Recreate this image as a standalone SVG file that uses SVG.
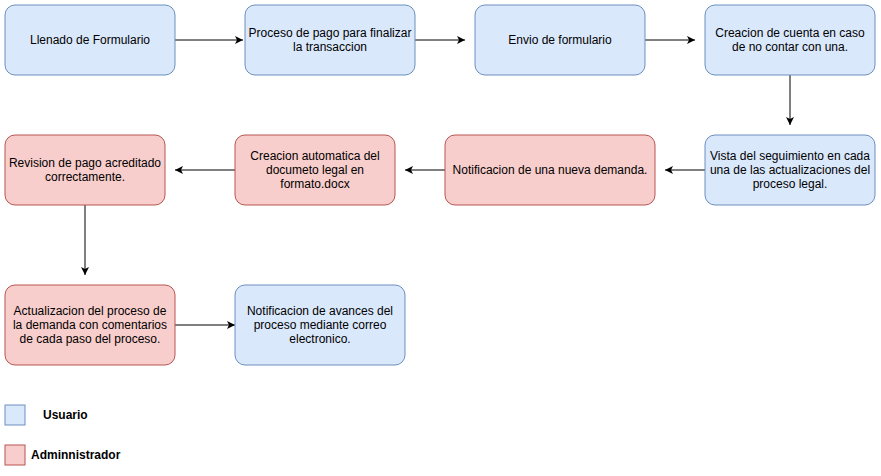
<svg xmlns="http://www.w3.org/2000/svg" width="881" height="476" viewBox="0 0 881 476">
<style>
.u{fill:#dae8fc;stroke:#6c8ebf;stroke-width:1}
.a{fill:#f8cecc;stroke:#b85450;stroke-width:1}
text{font-family:"Liberation Sans",Arial,sans-serif;font-size:12px;fill:#000;text-anchor:middle;dominant-baseline:central}
.b{font-weight:bold;text-anchor:start}
.c{fill:none;stroke:#000;stroke-width:1}
</style>
<defs>
<marker id="ar" viewBox="0 0 10 10" refX="10" refY="5" markerWidth="8" markerHeight="8" markerUnits="userSpaceOnUse" orient="auto">
<path d="M0,0 L10,5 L0,10 L2.5,5 Z" fill="#000"/>
</marker>
</defs>
<rect width="881" height="476" fill="#fff"/>
<g id="connectors">
<path class="c" d="M175,40 H243" marker-end="url(#ar)"/>
<path class="c" d="M415,40 H465" marker-end="url(#ar)"/>
<path class="c" d="M645,40 H695" marker-end="url(#ar)"/>
<path class="c" d="M790,75 V125" marker-end="url(#ar)"/>
<path class="c" d="M705,170 H665" marker-end="url(#ar)"/>
<path class="c" d="M445,170 H405" marker-end="url(#ar)"/>
<path class="c" d="M235,170 H175" marker-end="url(#ar)"/>
<path class="c" d="M85,205 V275" marker-end="url(#ar)"/>
<path class="c" d="M175,325 H235" marker-end="url(#ar)"/>
</g>
<g id="n1"><rect class="u" x="5" y="5" width="170" height="70" rx="10"/><text x="90" y="40">Llenado de Formulario</text></g>
<g id="n2"><rect class="u" x="245" y="5" width="170" height="70" rx="10"/><text x="330" y="33">Proceso de pago para finalizar</text><text x="330" y="47">la transaccion</text></g>
<g id="n3"><rect class="u" x="475" y="5" width="170" height="70" rx="10"/><text x="560" y="40">Envio de formulario</text></g>
<g id="n4"><rect class="u" x="705" y="5" width="170" height="70" rx="10"/><text x="790" y="33">Creacion de cuenta en caso</text><text x="790" y="47">de no contar con una.</text></g>
<g id="n5"><rect class="u" x="705" y="135" width="170" height="70" rx="10"/><text x="790" y="156">Vista del seguimiento en cada</text><text x="790" y="170">una de las actualizaciones del</text><text x="790" y="184">proceso legal.</text></g>
<g id="n6"><rect class="a" x="445" y="135" width="210" height="70" rx="10"/><text x="550" y="170">Notificacion de una nueva demanda.</text></g>
<g id="n7"><rect class="a" x="235" y="135" width="160" height="70" rx="10"/><text x="315" y="156">Creacion automatica del</text><text x="315" y="170">documeto legal en</text><text x="315" y="184">formato.docx</text></g>
<g id="n8"><rect class="a" x="5" y="135" width="160" height="70" rx="10"/><text x="85" y="163">Revision de pago acreditado</text><text x="85" y="177">correctamente.</text></g>
<g id="n9"><rect class="a" x="5" y="285" width="170" height="80" rx="10"/><text x="90" y="311">Actualizacion del proceso de</text><text x="90" y="325">la demanda con comentarios</text><text x="90" y="339">de cada paso del proceso.</text></g>
<g id="n10"><rect class="u" x="235" y="285" width="170" height="80" rx="10"/><text x="320" y="311">Notificacion de avances del</text><text x="320" y="325">proceso mediante correo</text><text x="320" y="339">electronico.</text></g>
<g id="legend-usuario"><rect class="u" x="5" y="405" width="20" height="20"/><text class="b" x="43" y="415">Usuario</text></g>
<g id="legend-admin"><rect class="a" x="5" y="445" width="20" height="20"/><text class="b" x="31" y="455">Adminnistrador</text></g>
</svg>
